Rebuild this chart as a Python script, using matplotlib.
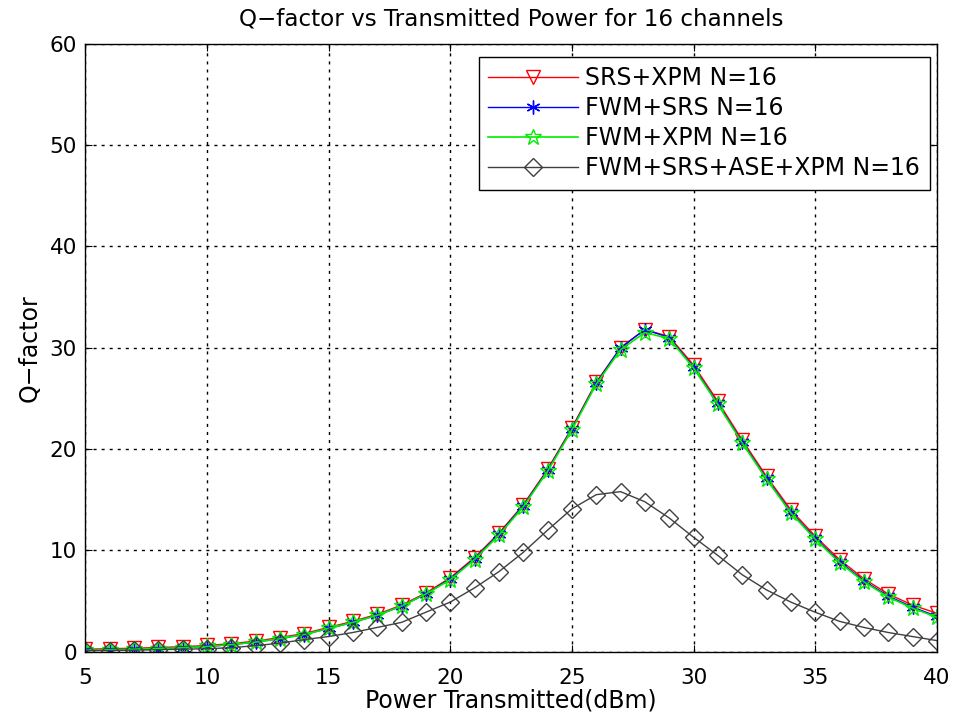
import matplotlib
matplotlib.use("Agg")
import matplotlib.pyplot as plt

plt.rcParams['font.family'] = ['DejaVu Sans']

power = list(range(5, 41))

srs_xpm = [0.25, 0.3, 0.35, 0.42, 0.5, 0.62, 0.8, 1.05, 1.4, 1.8, 2.4, 3.0, 3.7, 4.6, 5.8,
           7.3, 9.3, 11.7, 14.5, 18.0, 22.1, 26.6, 30.0, 31.8, 31.1, 28.3, 24.7, 20.9, 17.3,
           14.0, 11.4, 9.1, 7.2, 5.7, 4.6, 3.8]
fwm_srs = [0.15, 0.2, 0.25, 0.32, 0.4, 0.52, 0.7, 0.95, 1.3, 1.7, 2.3, 2.9, 3.6, 4.5, 5.7,
           7.2, 9.2, 11.6, 14.4, 17.9, 22.0, 26.5, 30.0, 31.8, 31.0, 28.1, 24.5, 20.7, 17.1,
           13.8, 11.2, 8.9, 7.0, 5.5, 4.4, 3.5]
fwm_xpm = [0.15, 0.2, 0.25, 0.32, 0.4, 0.52, 0.7, 0.95, 1.3, 1.7, 2.3, 2.9, 3.6, 4.5, 5.7,
           7.1, 9.1, 11.5, 14.3, 17.8, 21.9, 26.4, 29.8, 31.5, 30.9, 28.0, 24.4, 20.6, 17.0,
           13.7, 11.1, 8.8, 6.9, 5.4, 4.3, 3.4]
fwm_srs_ase_xpm = [0.1, 0.12, 0.15, 0.2, 0.25, 0.3, 0.4, 0.6, 0.85, 1.2, 1.5, 1.9, 2.4, 2.9, 3.9,
                   4.9, 6.3, 7.9, 9.8, 12.0, 14.1, 15.5, 15.8, 14.8, 13.2, 11.3, 9.5, 7.6, 6.1,
                   4.9, 3.9, 3.0, 2.4, 1.9, 1.5, 1.1]

labels = ['SRS+XPM N=16', 'FWM+SRS N=16', 'FWM+XPM N=16', 'FWM+SRS+ASE+XPM N=16']

FS_TICK = 15.5
FS = 17

fig = plt.figure(figsize=(9.57, 7.17), dpi=100)
ax = fig.add_axes([0.089, 0.091, 0.890, 0.848])

ax.plot(power, srs_xpm, color='red', lw=1, marker='v', ms=10, mfc='none', mec='red',
        mew=1, label=labels[0])
ax.plot(power, fwm_srs, color='blue', lw=1, marker=(6, 2, 0), ms=10, mec='blue',
        mew=1, label=labels[1])
ax.plot(power, fwm_xpm, color='#00ee00', lw=1.2, marker='*', ms=12, mfc='none',
        mec='#00ee00', mew=1, label=labels[2])
ax.plot(power, fwm_srs_ase_xpm, color='#404040', lw=1, marker='D', ms=9, mfc='none',
        mec='#404040', mew=1, label=labels[3])

ax.set_xlim(5, 40)
ax.set_ylim(0, 60)
ax.set_xticks(range(5, 41, 5))
ax.set_yticks(range(0, 61, 10))
ax.tick_params(direction='in', top=True, right=True, labelsize=FS_TICK, length=5)
ax.tick_params(axis='x', pad=12)
ax.tick_params(axis='y', pad=6)
ax.grid(True, linestyle=(0, (2.2, 3.6)), color='black', lw=1)
for s in ax.spines.values():
    s.set_linewidth(1)
    s.set_color('black')

ax.set_xlabel('Power Transmitted(dBm)', fontsize=FS, labelpad=0)
ax.set_ylabel('Q\u2212factor', fontsize=FS, labelpad=6)
ax.set_title('Q\u2212factor vs Transmitted Power for 16 channels', fontsize=16.6, pad=13)

leg = ax.legend(loc='upper right', bbox_to_anchor=(0.992, 0.979), borderaxespad=0,
                fontsize=FS, handlelength=3.8, handletextpad=0.3, labelspacing=0.25,
                borderpad=0.42, fancybox=False, framealpha=1, edgecolor='black')
leg.get_frame().set_linewidth(1)

fig.savefig('out.png', dpi=100)
